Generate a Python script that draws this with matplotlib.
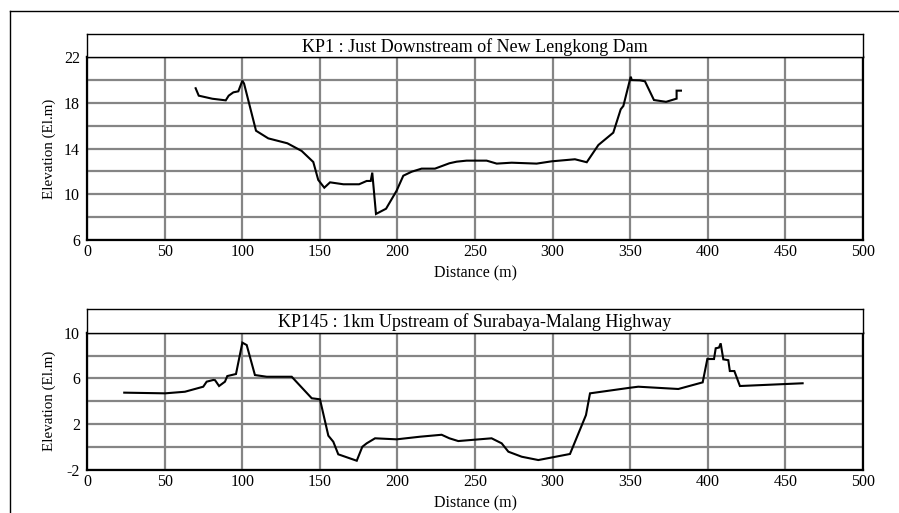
import matplotlib
matplotlib.use("Agg")
import matplotlib.pyplot as plt
from matplotlib.lines import Line2D

# Cross-section KP1 : just downstream of New Lengkong Dam
kp1_dist = [70.0, 72.0, 80.8, 89.4, 91.3, 94.3, 97.5, 100.1, 101.2, 108.9, 116.8,
            129.1, 138.3, 145.8, 149.0, 152.9, 156.6, 165.2, 175.3, 180.2, 182.8,
            183.8, 186.2, 192.7, 199.5, 203.8, 209.2, 215.6, 224.2, 233.5, 238.2,
            244.6, 257.5, 264.0, 273.6, 289.7, 299.4, 314.4, 322.0, 329.5, 339.1,
            343.9, 345.6, 349.9, 350.4, 351.0, 356.3, 359.5, 365.3, 373.1, 379.9,
            379.9, 382.7]
kp1_elev = [19.29, 18.64, 18.37, 18.23, 18.64, 18.93, 19.02, 19.95, 19.7, 15.57, 14.9,
            14.47, 13.8, 12.83, 11.26, 10.58, 11.05, 10.88, 10.88, 11.17, 11.17,
            11.9, 8.28, 8.74, 10.32, 11.63, 11.98, 12.25, 12.25, 12.72, 12.86,
            12.95, 12.95, 12.69, 12.77, 12.69, 12.89, 13.07, 12.81, 14.32, 15.4,
            17.45, 17.74, 20.07, 20.3, 20.0, 19.98, 19.9, 18.26, 18.1, 18.38,
            19.08, 19.08]

# Cross-section KP145 : 1km upstream of Surabaya-Malang Highway
kp145_dist = [24.0, 50.3, 63.1, 74.9, 77.1, 81.4, 82.5, 85.1, 88.9, 90.4, 96.0, 100.1,
              102.9, 108.2, 115.8, 131.9, 144.8, 150.1, 155.5, 158.7, 161.9, 173.8,
              177.4, 180.2, 185.6, 199.5, 214.6, 228.5, 233.5, 239.2, 260.7, 267.2,
              271.5, 280.1, 290.8, 311.2, 321.5, 324.1, 349.9, 355.2, 381.0, 396.7,
              399.7, 404.0, 405.1, 407.2, 408.3, 410.0, 413.2, 414.2, 417.1, 420.7,
              461.1]
kp145_elev = [4.76, 4.70, 4.84, 5.28, 5.72, 5.87, 5.85, 5.34, 5.72, 6.21, 6.39, 9.13,
              8.92, 6.30, 6.15, 6.15, 4.27, 4.18, 1.0, 0.47, -0.63, -1.19,
              0.03, 0.33, 0.77, 0.68, 0.91, 1.08, 0.77, 0.53, 0.77, 0.33,
              -0.40, -0.84, -1.13, -0.6, 2.80, 4.70, 5.19, 5.28, 5.08, 5.66,
              7.70, 7.70, 8.64, 8.70, 9.07, 7.67, 7.6, 6.65, 6.65, 5.34,
              5.58]

x_ticks = [0, 50, 100, 150, 200, 250, 300, 350, 400, 450, 500]
kp1_yticks = [6, 10, 14, 18, 22]
kp145_yticks = [-2, 2, 6, 10]

plt.rcParams["font.family"] = ["Liberation Serif", "DejaVu Serif"]
plt.rcParams["axes.unicode_minus"] = False

W, H = 899, 513
fig = plt.figure(figsize=(W / 100, H / 100), dpi=100)


def fx(px):
    return px / W


def fy(py):
    return 1 - py / H


def panel(title, dist, elev, ylim, yticks, top_box, top_ax, bottom_ax):
    left, right = 87, 863
    ax = fig.add_axes([fx(left), fy(bottom_ax), fx(right - left),
                       (bottom_ax - top_ax) / H])
    ax.plot(dist, elev, color="black", lw=1.5, solid_joinstyle="miter", zorder=3)
    ax.set_xlim(0, 500)
    ax.set_ylim(*ylim)
    ax.set_xticks(x_ticks)
    ax.set_yticks(yticks)
    ax.set_yticks(range(ylim[0], ylim[1] + 1, 2), minor=True)
    ax.grid(True, which="both", color="#858585", lw=1.6)
    ax.tick_params(which="both", length=0, labelsize=11.5)
    ax.tick_params(axis="y", pad=5)
    ax.tick_params(axis="x", pad=3)
    for s in ax.spines.values():
        s.set_linewidth(1.6)
        s.set_color("black")
        s.set_zorder(4)
    ax.set_xlabel("Distance (m)", fontsize=11.5, labelpad=4)
    ax.set_ylabel("Elevation (El.m)", fontsize=10.8, labelpad=6)

    tb = fig.add_axes([fx(left), fy(top_ax), fx(right - left),
                       (top_ax - top_box) / H])
    tb.set_xticks([])
    tb.set_yticks([])
    for s in tb.spines.values():
        s.set_linewidth(1.0)
    tb.text(0.5, 0.45, title, ha="center", va="center", fontsize=13,
            transform=tb.transAxes)
    return ax


panel("KP1 : Just Downstream of New Lengkong Dam", kp1_dist, kp1_elev,
      (6, 22), kp1_yticks, 33.7, 57.3, 240)
panel("KP145 : 1km Upstream of Surabaya-Malang Highway", kp145_dist, kp145_elev,
      (-2, 10), kp145_yticks, 309, 332.7, 470)

# outer frame (runs past the right and bottom edges)
fig.add_artist(Line2D([fx(10), 1.0], [fy(11), fy(11)], color="black", lw=1.0))
fig.add_artist(Line2D([fx(10), fx(10)], [fy(11), 0.0], color="black", lw=1.0))

fig.savefig("out.png", dpi=100)
